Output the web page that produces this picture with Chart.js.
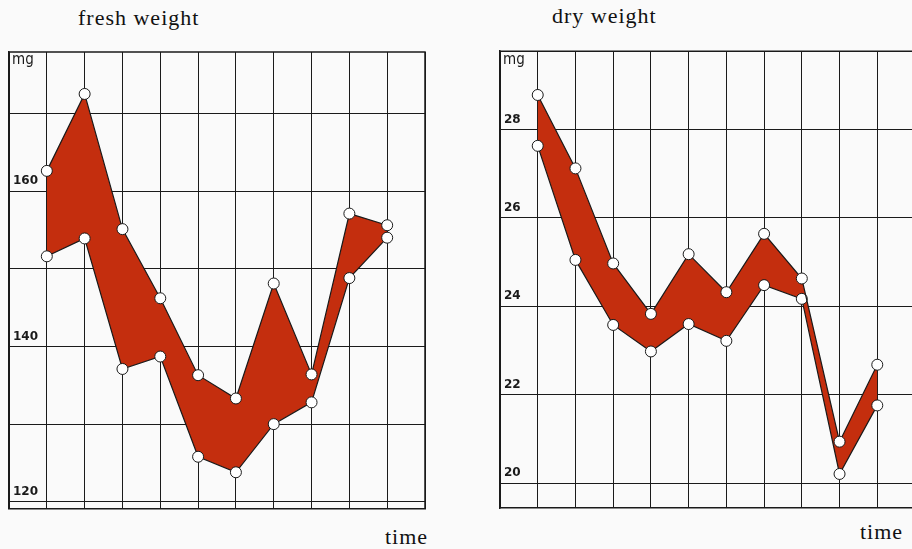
<!DOCTYPE html>
<html>
<head>
<meta charset="utf-8">
<script src="https://cdn.jsdelivr.net/npm/chart.js@4/dist/chart.umd.min.js"></script>
<style>
  html, body { margin: 0; padding: 0; width: 912px; height: 549px; overflow: hidden; background: #fafafa; }
  .wrap { position: absolute; }
  .txt { position: absolute; font-family: "Liberation Serif", "DejaVu Serif", serif; color: #111; white-space: nowrap; line-height: 1; font-size: 22px; letter-spacing: 1px; }
</style>
</head>
<body>
<div class="txt" style="left:78px; top:7px;">fresh weight</div>
<div class="txt" style="left:552px; top:5px;">dry weight</div>
<div class="txt" style="left:385px; top:526px;">time</div>
<div class="txt" style="left:860px; top:521px;">time</div>

<div class="wrap" style="left:0px; top:40px; width:440px; height:480px;"><canvas id="fresh"></canvas></div>
<div class="wrap" style="left:490px; top:40px; width:440px; height:480px;"><canvas id="dry"></canvas></div>

<script>
// sampling times (grid columns 1..10)
const times = [1, 2, 3, 4, 5, 6, 7, 8, 9, 10];

// fresh weight, mg: upper and lower bound at each time
const freshUpper = [162.6, 172.5, 155.1, 146.2, 136.3, 133.3, 148.1, 136.4, 157.1, 155.6];
const freshLower = [151.6, 153.9, 137.1, 138.7, 125.8, 123.8, 130.0, 132.8, 148.8, 154.0];
const freshTicks = [120, 130, 140, 150, 160, 170];
const freshLabels = [120, 140, 160];

// dry weight, mg: upper and lower bound at each time
const dryUpper = [28.78, 27.12, 24.97, 23.83, 25.18, 24.32, 25.64, 24.63, 20.94, 22.68];
const dryLower = [27.63, 25.05, 23.58, 22.98, 23.60, 23.22, 24.48, 24.17, 20.21, 21.76];
const dryTicks = [20, 22, 24, 26, 28];
const dryLabels = [20, 22, 24, 26, 28];

const FILL = '#c42e0e';
const INK = '#1a1a1a';

// "mg" unit written in the top-left corner of the plot box, plus the box's top/right edges
const boxDecor = {
  id: 'boxDecor',
  afterDraw(chart) {
    const { ctx, chartArea } = chart;
    ctx.save();
    ctx.strokeStyle = INK;
    ctx.lineWidth = 1.5;
    ctx.beginPath();
    ctx.moveTo(chartArea.left, chartArea.top);
    ctx.lineTo(chartArea.right, chartArea.top);
    ctx.lineTo(chartArea.right, chartArea.bottom);
    ctx.stroke();
    ctx.fillStyle = INK;
    ctx.font = '15px "DejaVu Sans Condensed", "DejaVu Sans", sans-serif';
    ctx.textBaseline = 'top';
    ctx.textAlign = 'left';
    ctx.fillText('mg', chartArea.left + 3, chartArea.top + 1);
    ctx.restore();
  }
};

function makeChart(id, upper, lower, yMin, yMax, ticks, labels, pad) {
  const pts = arr => arr.map((v, i) => ({ x: times[i], y: v }));
  const lineStyle = {
    pointRadius: 5.5,
    pointHoverRadius: 5.5,
    pointBackgroundColor: '#ffffff',
    pointBorderColor: INK,
    pointBorderWidth: 1,
    borderColor: INK,
    borderWidth: 1.2,
    tension: 0
  };
  return new Chart(document.getElementById(id), {
    type: 'line',
    data: {
      datasets: [
        Object.assign({ label: 'upper', data: pts(upper), fill: '+1', backgroundColor: FILL }, lineStyle),
        Object.assign({ label: 'lower', data: pts(lower), fill: false }, lineStyle)
      ]
    },
    options: {
      responsive: true,
      maintainAspectRatio: false,
      animation: false,
      layout: { padding: pad },
      plugins: {
        legend: { display: false },
        tooltip: { enabled: false },
        filler: { drawTime: 'beforeDatasetsDraw' }
      },
      scales: {
        x: {
          type: 'linear',
          min: 0,
          max: 11,
          afterBuildTicks: s => { s.ticks = [0,1,2,3,4,5,6,7,8,9,10,11].map(v => ({ value: v })); },
          afterFit: s => { s.height = 0; },
          ticks: { display: false },
          grid: { color: INK, lineWidth: 1, drawTicks: false },
          border: { color: INK, width: 1.5 }
        },
        y: {
          type: 'linear',
          min: yMin,
          max: yMax,
          afterBuildTicks: s => { s.ticks = ticks.map(v => ({ value: v })); },
          afterFit: s => { s.width = 0; },
          ticks: {
            mirror: true,
            padding: 4,
            labelOffset: -10,
            color: INK,
            font: { family: '"DejaVu Sans", sans-serif', size: 12, weight: 'bold' },
            callback: v => (labels.includes(v) ? String(v) : '')
          },
          grid: { color: INK, lineWidth: 1, drawTicks: false },
          border: { color: INK, width: 1.5 }
        }
      }
    },
    plugins: [boxDecor]
  });
}

makeChart('fresh', freshUpper, freshLower, 119.1, 177.9, freshTicks, freshLabels,
  { left: 9, top: 12, right: 15, bottom: 11 });
makeChart('dry', dryUpper, dryLower, 19.44, 29.77, dryTicks, dryLabels,
  { left: 10, top: 11, right: 15, bottom: 12 });
</script>
</body>
</html>
